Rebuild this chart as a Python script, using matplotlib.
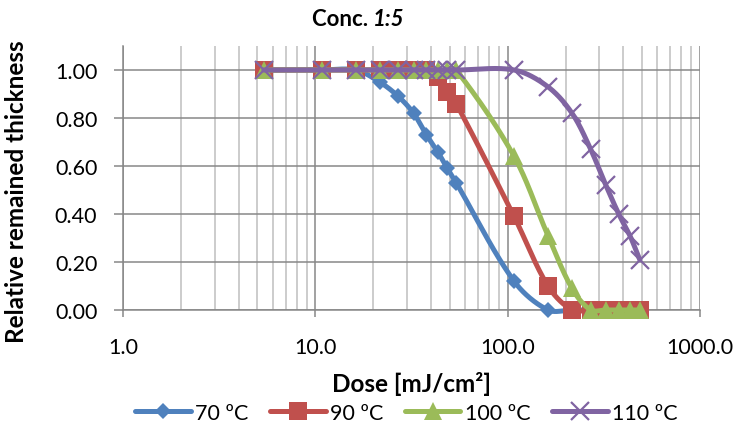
import numpy as np
import matplotlib
matplotlib.use("Agg")
import matplotlib.pyplot as plt
from matplotlib.ticker import FixedLocator, FuncFormatter, NullFormatter

# Exposure dose [mJ/cm²] and relative remained thickness per bake temperature
dose = [5.4, 10.8, 16.2, 21.6, 27.0, 32.4, 37.8, 43.2, 48.6, 54.0,
        108, 162, 216, 270, 324, 378, 432, 486]
thk_70 = [1.00, 1.00, 1.00, 0.95, 0.89, 0.82, 0.73, 0.66, 0.59, 0.53,
          0.12, 0.00, 0.00, 0.00, 0.00, 0.00, 0.00, 0.00]
thk_90 = [1.00, 1.00, 1.00, 1.00, 1.00, 1.00, 1.00, 0.97, 0.91, 0.86,
          0.39, 0.10, 0.00, 0.00, 0.00, 0.00, 0.00, 0.00]
thk_100 = [1.00, 1.00, 1.00, 1.00, 1.00, 1.00, 1.00, 1.00, 1.00, 1.00,
           0.64, 0.31, 0.09, 0.00, 0.00, 0.00, 0.00, 0.00]
thk_110 = [1.00, 1.00, 1.00, 1.00, 1.00, 1.00, 1.00, 1.00, 1.00, 1.00,
           1.00, 0.93, 0.82, 0.67, 0.52, 0.40, 0.31, 0.21]

series_labels = ["70 ºC", "90 ºC", "100 ºC", "110 ºC"]
x_ticks = [1, 10, 100, 1000]
y_ticks = [0.0, 0.2, 0.4, 0.6, 0.8, 1.0]

colors = ["#4F81BD", "#C0504D", "#9BBB59", "#8064A2"]
markers = ["D", "s", "^", "x"]
msizes = [8.5, 13, 13.5, 13]

FONT = ["Lato", "DejaVu Sans"]
plt.rcParams["font.family"] = FONT
FS = 15.5

W, H = 741, 431
fig = plt.figure(figsize=(W / 100, H / 100), dpi=100)
ax_l, ax_r, ax_t, ax_b = 123, 700, 47, 311
ax = fig.add_axes([ax_l / W, 1 - ax_b / H, (ax_r - ax_l) / W, (ax_b - ax_t) / H])
ax.set_xscale("log")
ax.set_xlim(1, 1000)
ax.set_ylim(0, 1.1)

PX_DEC = (ax_r - ax_l) / 3.0
PX_UNIT = (ax_b - ax_t) / 1.1


def smooth(xs, ys, n=40):
    """Bezier smoothing through the points, computed in screen-like units."""
    P = np.column_stack([np.log10(xs) * PX_DEC, np.asarray(ys, float) * PX_UNIT])
    Pe = np.vstack([P[0], P, P[-1]])
    t = np.linspace(0, 1, n)[:, None]
    out = []
    for i in range(len(P) - 1):
        p0, p1, p2, p3 = Pe[i], Pe[i + 1], Pe[i + 2], Pe[i + 3]
        d01 = np.hypot(*(p1 - p0))
        d12 = np.hypot(*(p2 - p1))
        d23 = np.hypot(*(p3 - p2))
        f1 = d12 / (d01 + d12) / 3 if d01 + d12 > 0 else 0
        f2 = d12 / (d12 + d23) / 3 if d12 + d23 > 0 else 0
        c1 = p1 + (p2 - p0) * f1
        c2 = p2 - (p3 - p1) * f2
        seg = ((1 - t) ** 3) * p1 + 3 * (1 - t) ** 2 * t * c1 + 3 * (1 - t) * t ** 2 * c2 + t ** 3 * p2
        out.append(seg if i == 0 else seg[1:])
    S = np.vstack(out)
    return 10 ** (S[:, 0] / PX_DEC), S[:, 1] / PX_UNIT


# grid
ax.xaxis.set_major_locator(FixedLocator(x_ticks))
minor = [m * 10 ** e for e in range(0, 3) for m in range(2, 10)]
ax.xaxis.set_minor_locator(FixedLocator(minor))
ax.xaxis.set_minor_formatter(NullFormatter())
ax.xaxis.set_major_formatter(FuncFormatter(lambda v, p: f"{v:.1f}"))
ax.yaxis.set_major_locator(FixedLocator(y_ticks))
ax.yaxis.set_major_formatter(FuncFormatter(lambda v, p: f"{v:.2f}"))

ax.grid(which="major", axis="both", color="#878787", linewidth=1.1, zorder=0)
ax.grid(which="minor", axis="x", color="#BFBFBF", linewidth=1.1, zorder=0)
ax.set_axisbelow(True)

for s in ["top", "right"]:
    ax.spines[s].set_visible(False)
for s in ["left", "bottom"]:
    ax.spines[s].set_color("#878787")
    ax.spines[s].set_linewidth(1.1)

ax.tick_params(axis="x", which="major", direction="out", length=5, width=1.1,
               color="#878787", labelsize=FS, pad=14.5, labelcolor="black")
ax.tick_params(axis="x", which="minor", length=0)
ax.tick_params(axis="y", which="major", direction="out", length=6.5, width=1.1,
               color="#878787", labelsize=FS, pad=12, labelcolor="black")

handles = []
for i, ys in enumerate([thk_70, thk_90, thk_100, thk_110]):
    sx, sy = smooth(dose, ys)
    ax.plot(sx, sy, color=colors[i], linewidth=3.6, solid_capstyle="round",
            zorder=3 + 2 * i, clip_on=False)
    mew = 1.6 if markers[i] == "x" else 0
    ax.plot(dose, ys, linestyle="none", marker=markers[i], markersize=msizes[i],
            markeredgewidth=mew, color=colors[i], zorder=4 + 2 * i, clip_on=False)
    h, = ax.plot([], [], color=colors[i], linewidth=3.6, marker=markers[i],
                 markersize=msizes[i] * 0.95, markeredgewidth=mew,
                 solid_capstyle="round")
    handles.append(h)

fig.legend(handles, series_labels, loc="center", bbox_to_anchor=(406 / W, 1 - 414 / H),
           ncol=4, frameon=False, fontsize=FS, handlelength=2.6, handletextpad=0.19,
           columnspacing=1.0, numpoints=1, borderpad=0)

fig.text(17 / W, 1 - 192 / H, "Relative remained thickness", rotation=90,
         ha="center", va="center", fontsize=17.5, fontweight="bold")
fig.text(411 / W, 1 - 384 / H, "Dose [mJ/cm²]", ha="center", va="center",
         fontsize=17.5, fontweight="bold")

# title: bold text with an italic ratio
renderer = fig.canvas.get_renderer()
t1 = fig.text(0, 1 - 20 / H, "Conc. ", ha="left", va="center", fontsize=16, fontweight="bold")
t2 = fig.text(0, 1 - 20 / H, "1:5", ha="left", va="center", fontsize=16,
              fontweight="bold", style="italic")
w1 = t1.get_window_extent(renderer).width
w2 = t2.get_window_extent(renderer).width
x0 = 358 - (w1 + w2) / 2
t1.set_x(x0 / W)
t2.set_x((x0 + w1) / W)

fig.savefig("out.png", dpi=100)
